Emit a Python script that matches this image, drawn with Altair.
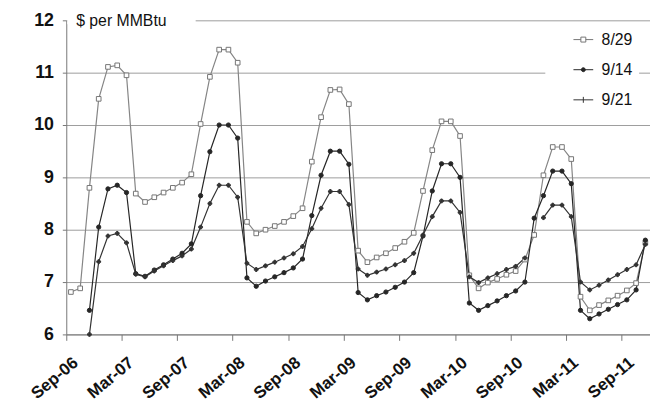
import altair as alt
import pandas as pd

# ---- data -------------------------------------------------------------
months = pd.date_range("2006-09-01", periods=63, freq="MS").strftime("%b-%y").tolist()
tick_labels = months[::6]

series_names = ["8/29", "9/14", "9/21"]

s829 = [6.81, 6.88, 8.80, 10.50, 11.11, 11.14, 10.95, 8.69, 8.53, 8.62,
        8.71, 8.80, 8.90, 9.06, 10.02, 10.92, 11.44, 11.44, 11.19, 8.15,
        7.93, 8.00, 8.07, 8.15, 8.26, 8.41, 9.30, 10.15, 10.67, 10.68,
        10.40, 7.60, 7.38, 7.47, 7.55, 7.65, 7.77, 7.94, 8.74, 9.52,
        10.07, 10.07, 9.79, 7.13, 6.88, 6.99, 7.06, 7.14, 7.21, 7.43,
        7.90, 9.04, 9.58, 9.58, 9.35, 6.72, 6.46, 6.56, 6.65, 6.74,
        6.84, 6.98, 7.75]

s914 = [None, None, 6.46, 8.05, 8.78, 8.85, 8.71, 7.16, 7.11, 7.23,
        7.33, 7.44, 7.55, 7.73, 8.65, 9.49, 10.00, 10.00, 9.75, 7.08,
        6.92, 7.02, 7.10, 7.18, 7.27, 7.44, 8.27, 9.04, 9.50, 9.50,
        9.25, 6.80, 6.66, 6.74, 6.81, 6.90, 7.00, 7.18, 7.88, 8.74,
        9.26, 9.26, 9.00, 6.60, 6.46, 6.55, 6.64, 6.74, 6.83, 7.00,
        8.22, 8.65, 9.12, 9.12, 8.88, 6.46, 6.30, 6.39, 6.48, 6.57,
        6.66, 6.85, 7.80]

s921 = [None, None, 6.00, 7.39, 7.88, 7.93, 7.75, 7.15, 7.10, 7.21,
        7.31, 7.41, 7.50, 7.63, 8.05, 8.50, 8.85, 8.85, 8.62, 7.36,
        7.24, 7.31, 7.38, 7.46, 7.54, 7.68, 8.02, 8.41, 8.73, 8.73,
        8.48, 7.25, 7.13, 7.19, 7.25, 7.33, 7.41, 7.55, 7.90, 8.25,
        8.55, 8.55, 8.33, 7.10, 6.99, 7.08, 7.16, 7.24, 7.30, 7.46,
        None, 8.23, 8.47, 8.47, 8.25, 7.00, 6.85, 6.94, 7.04, 7.14,
        7.24, 7.33, 7.72]

y_ticks = [6, 7, 8, 9, 10, 11, 12]
unit_label = "$ per MMBtu"

# ---- styling ----------------------------------------------------------
FONT = "Liberation Sans"
line_colors = ["#858585", "#262626", "#333333"]
marker_fill = ["#ffffff", "#262626", "#333333"]
marker_stroke = ["#757575", "#262626", "#333333"]
legend_paths = [
    "M-1,0H-0.25M0.25,0H1M-0.25,-0.25H0.25V0.25H-0.25Z",
    "M-1,0H1M-0.2,0A0.2,0.2,0,1,1,0.2,0A0.2,0.2,0,1,1,-0.2,0Z",
    "M-1,0H1M0,-0.3V0.3",
]

rows = []
for name, vals in zip(series_names, [s829, s914, s921]):
    for i, (m, v) in enumerate(zip(months, vals)):
        rows.append({"month": m, "idx": i, "series": name, "value": v})
df = pd.DataFrame(rows)

x_enc = alt.X(
    "month:O",
    scale=alt.Scale(type="band", domain=months, paddingInner=0, paddingOuter=0),
    axis=alt.Axis(
        values=tick_labels, bandPosition=0, title=None, grid=False,
        labelAngle=-40, labelAlign="right", labelBaseline="top",
        labelPadding=14, tickSize=6, labelFont=FONT, labelFontSize=17,
        labelFontWeight="bold", labelColor="#111111", domainColor="#777777",
        tickColor="#777777", labelOverlap=False, labelFlush=False,
    ),
)
y_enc = alt.Y(
    "value:Q",
    scale=alt.Scale(domain=[6, 12], nice=False, zero=False),
    axis=alt.Axis(
        values=y_ticks, title=None, grid=True, gridColor="#9c9c9c",
        gridWidth=1, tickSize=4, labelPadding=9, labelFont=FONT,
        labelFontSize=18, labelFontWeight="bold", labelColor="#111111",
        domainColor="#777777", tickColor="#777777", labelFlush=False,
        labelOverlap=False,
    ),
)

base = alt.Chart(df)

lines = base.mark_line(strokeWidth=1.2).encode(
    x=x_enc, y=y_enc,
    order=alt.Order("idx:Q"),
    color=alt.Color("series:N", scale=alt.Scale(domain=series_names, range=line_colors), legend=None),
)

points = base.transform_filter("isValid(datum.value)").mark_point(opacity=1, strokeWidth=1).encode(
    x=x_enc, y=y_enc,
    shape=alt.Shape("series:N", scale=alt.Scale(domain=series_names, range=["square", "circle", "cross"]), legend=None),
    fill=alt.Fill("series:N", scale=alt.Scale(domain=series_names, range=marker_fill), legend=None),
    stroke=alt.Stroke("series:N", scale=alt.Scale(domain=series_names, range=marker_stroke), legend=None),
    size=alt.Size("series:N", scale=alt.Scale(domain=series_names, range=[22, 15, 26]), legend=None),
)

legend_def = dict(
    title=None, orient="none", legendX=485, legendY=3, direction="vertical",
    fillColor="white", padding=6, symbolSize=400, symbolStrokeWidth=1,
    symbolOffset=22, labelOffset=8, labelFont=FONT, labelFontSize=16,
    labelColor="#111111", rowPadding=11.5,
)
legend_layer = base.transform_filter("false").mark_point(opacity=1).encode(
    x=x_enc, y=y_enc,
    shape=alt.Shape("series:N", scale=alt.Scale(domain=series_names, range=legend_paths), legend=alt.Legend(**legend_def)),
    fill=alt.Fill("series:N", scale=alt.Scale(domain=series_names, range=marker_fill), legend=alt.Legend(**legend_def)),
    stroke=alt.Stroke("series:N", scale=alt.Scale(domain=series_names, range=marker_stroke), legend=alt.Legend(**legend_def)),
)

label_data = alt.Data(values=[{"t": unit_label}])
mask = alt.Chart(label_data).mark_rect(color="white").encode(
    x=alt.value(1), x2=alt.value(131), y=alt.value(-4), y2=alt.value(4)
)
unit_text = alt.Chart(label_data).mark_text(
    align="left", baseline="middle", font=FONT, fontSize=16, color="#111111"
).encode(x=alt.value(10), y=alt.value(0.5), text="t:N")

chart = (
    alt.layer(lines, points, legend_layer, mask, unit_text)
    .resolve_scale(shape="independent", fill="independent", stroke="independent")
    .resolve_legend(shape="independent", fill="independent", stroke="independent")
    .properties(
        width=591, height=318,
        autosize=alt.AutoSizeParams(type="none"),
        padding={"left": 59, "top": 10, "right": 0, "bottom": 70},
        background="white",
    )
    .configure_view(stroke=None)
)

chart.save("out.html", embed_options={"renderer": "svg", "actions": False})
